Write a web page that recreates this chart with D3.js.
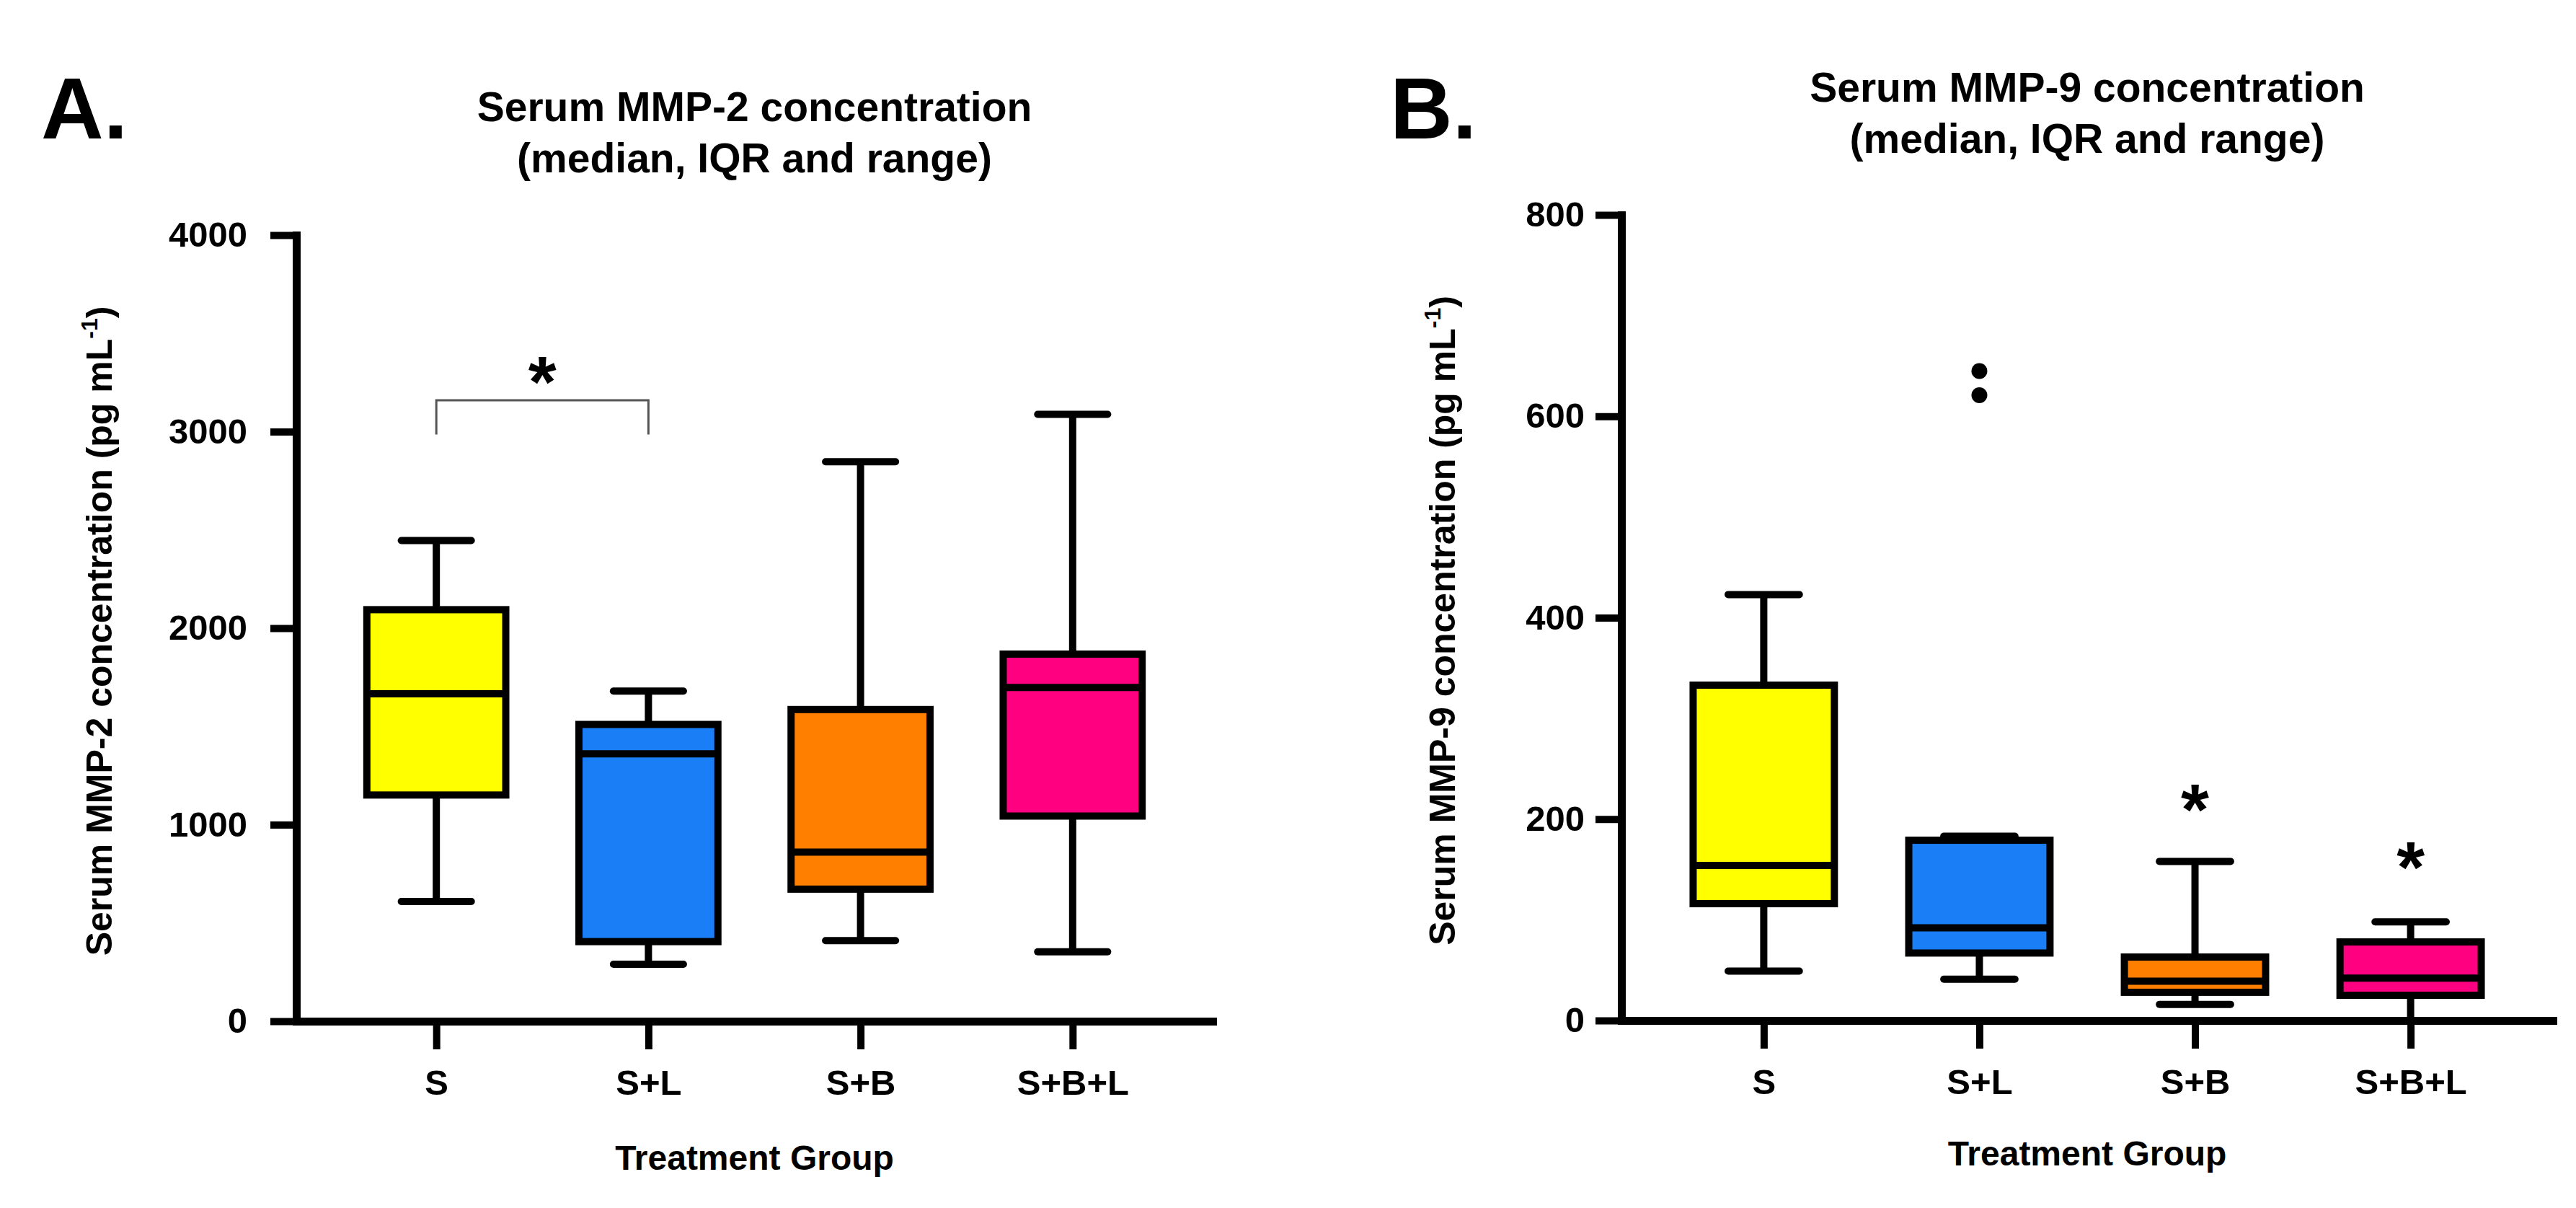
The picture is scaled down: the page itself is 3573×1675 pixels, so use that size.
<!DOCTYPE html>
<html>
<head>
<meta charset="utf-8">
<script src="https://cdn.jsdelivr.net/npm/d3@7"></script>
<style>
  body { margin: 0; background: #fff; }
  text { font-family: "Liberation Sans", Arial, sans-serif; font-weight: bold; fill: #000; }
</style>
</head>
<body>
<div id="chart"></div>
<script>
// groups and box-plot summaries
var groups = ["S", "S+L", "S+B", "S+B+L"];
var groupColors = ["#ffff00", "#1a7ff7", "#ff8000", "#ff0080"];

// panel A: MMP-2 (pg/mL)
var mmp2Min    = [609, 290, 410, 353];
var mmp2Q1     = [1151, 405, 672, 1044];
var mmp2Median = [1666, 1361, 861, 1698];
var mmp2Q3     = [2094, 1510, 1586, 1868];
var mmp2Max    = [2446, 1680, 2847, 3088];
var mmp2Ticks  = [0, 1000, 2000, 3000, 4000];

// panel B: MMP-9 (pg/mL)
var mmp9Min    = [49, 41, 16, 0];
var mmp9Q1     = [116, 67, 28, 25];
var mmp9Median = [154, 92, 39, 42];
var mmp9Q3     = [333, 179, 63, 78];
var mmp9Max    = [423, 183, 158, 98];
var mmp9Outliers = [{ group: "S+L", value: 645 }, { group: "S+L", value: 621 }];
var mmp9Ticks  = [0, 200, 400, 600, 800];

// significance marks
var mmp2Bracket = { from: "S", to: "S+L", top: 3160, leg: 2985, star: 3330 };
var mmp9Stars = [{ group: "S+B", value: 224 }, { group: "S+B+L", value: 167 }];

function boxes(mins, q1, med, q3, max) {
  return groups.map(function(g, i) {
    return { group: g, color: groupColors[i], min: mins[i], q1: q1[i], median: med[i], q3: q3[i], max: max[i] };
  });
}

var panels = [
  {
    letter: "A.", letterX: 57,
    title: ["Serum MMP-2 concentration", "(median, IQR and range)"], titleY: 168,
    yLabel: "Serum MMP-2 concentration (pg mL", yLabelX: 155,
    left: 411, right: 1682, top: 326, bottom: 1416,
    yMax: 4000, ticks: mmp2Ticks, tickPad: 32, xTitleY: 1622,
    data: boxes(mmp2Min, mmp2Q1, mmp2Median, mmp2Q3, mmp2Max),
    outliers: [], bracket: mmp2Bracket, stars: []
  },
  {
    letter: "B.", letterX: 1928,
    title: ["Serum MMP-9 concentration", "(median, IQR and range)"], titleY: 141,
    yLabel: "Serum MMP-9 concentration (pg mL", yLabelX: 2018,
    left: 2249, right: 3541, top: 298, bottom: 1415,
    yMax: 800, ticks: mmp9Ticks, tickPad: 15, xTitleY: 1616,
    data: boxes(mmp9Min, mmp9Q1, mmp9Median, mmp9Q3, mmp9Max),
    outliers: mmp9Outliers, bracket: null, stars: mmp9Stars
  }
];

var width = 3573, height = 1675;
var svg = d3.select("#chart").append("svg")
  .attr("width", width)
  .attr("height", height)
  .style("background", "#fff");

panels.forEach(function(p) {
  var x = d3.scalePoint().domain(groups).range([p.left, p.right]).padding(0.66);
  var y = d3.scaleLinear().domain([0, p.yMax]).range([p.bottom, p.top]);
  var step = x.step();
  var boxW = step * 0.655, capW = step * 0.33;
  var g = svg.append("g");
  var cx = (p.left + p.right) / 2;

  g.append("text").attr("x", p.letterX).attr("y", 192)
    .attr("font-size", 120).text(p.letter);

  g.selectAll(".title").data(p.title).enter().append("text")
    .attr("x", cx).attr("y", function(d, i) { return p.titleY + i * 71; })
    .attr("text-anchor", "middle").attr("font-size", 57)
    .text(function(d) { return d; });

  var yl = g.append("text")
    .attr("transform", "translate(" + p.yLabelX + "," + ((p.top + p.bottom) / 2 + 4) + ") rotate(-90)")
    .attr("text-anchor", "middle").attr("font-size", 50);
  yl.append("tspan").text(p.yLabel);
  yl.append("tspan").attr("font-size", 32).attr("dy", -20).text("-1");
  yl.append("tspan").attr("dy", 20).text(")");

  // whiskers, boxes, medians
  var bx = g.selectAll(".box").data(p.data).enter().append("g");
  bx.append("line")
    .attr("x1", function(d) { return x(d.group); }).attr("x2", function(d) { return x(d.group); })
    .attr("y1", function(d) { return y(d.max); }).attr("y2", function(d) { return y(d.min); })
    .attr("stroke", "#000").attr("stroke-width", 10);
  ["max", "min"].forEach(function(k) {
    bx.append("line")
      .attr("x1", function(d) { return x(d.group) - capW / 2; })
      .attr("x2", function(d) { return x(d.group) + capW / 2; })
      .attr("y1", function(d) { return y(d[k]); }).attr("y2", function(d) { return y(d[k]); })
      .attr("stroke", "#000").attr("stroke-width", 10).attr("stroke-linecap", "round");
  });
  bx.append("rect")
    .attr("x", function(d) { return x(d.group) - boxW / 2; })
    .attr("width", boxW)
    .attr("y", function(d) { return y(d.q3); })
    .attr("height", function(d) { return y(d.q1) - y(d.q3); })
    .attr("fill", function(d) { return d.color; })
    .attr("stroke", "#000").attr("stroke-width", 10);
  bx.append("line")
    .attr("x1", function(d) { return x(d.group) - boxW / 2; })
    .attr("x2", function(d) { return x(d.group) + boxW / 2; })
    .attr("y1", function(d) { return y(d.median); }).attr("y2", function(d) { return y(d.median); })
    .attr("stroke", "#000").attr("stroke-width", 10);

  g.selectAll(".out").data(p.outliers).enter().append("circle")
    .attr("cx", function(d) { return x(d.group); })
    .attr("cy", function(d) { return y(d.value); })
    .attr("r", 11).attr("fill", "#000");

  if (p.bracket) {
    var b = p.bracket;
    g.append("path")
      .attr("d", "M" + x(b.from) + "," + y(b.leg) + "V" + y(b.top) + "H" + x(b.to) + "V" + y(b.leg))
      .attr("fill", "none").attr("stroke", "#555").attr("stroke-width", 3);
    g.append("text").attr("x", (x(b.from) + x(b.to)) / 2).attr("y", y(b.star) + 55)
      .attr("text-anchor", "middle").attr("font-size", 100).text("*");
  }
  g.selectAll(".star").data(p.stars).enter().append("text")
    .attr("x", function(d) { return x(d.group); })
    .attr("y", function(d) { return y(d.value) + 55; })
    .attr("text-anchor", "middle").attr("font-size", 100).text("*");

  // axes
  var ya = g.append("g").attr("transform", "translate(" + p.left + ",0)")
    .call(d3.axisLeft(y).tickValues(p.ticks).tickFormat(d3.format("d"))
      .tickSizeInner(36).tickSizeOuter(0).tickPadding(p.tickPad));
  var xa = g.append("g").attr("transform", "translate(0," + p.bottom + ")")
    .call(d3.axisBottom(x).tickSizeInner(39).tickSizeOuter(0).tickPadding(28));
  [ya, xa].forEach(function(a) {
    a.select(".domain").attr("stroke-width", 11).attr("stroke-linecap", "square");
    a.selectAll(".tick line").attr("stroke-width", 10);
    a.selectAll(".tick text").attr("font-size", 49)
      .style("font-family", "'Liberation Sans', Arial, sans-serif").style("font-weight", "bold");
  });

  g.append("text").attr("x", cx).attr("y", p.xTitleY)
    .attr("text-anchor", "middle").attr("font-size", 48).text("Treatment Group");
});
</script>
</body>
</html>
